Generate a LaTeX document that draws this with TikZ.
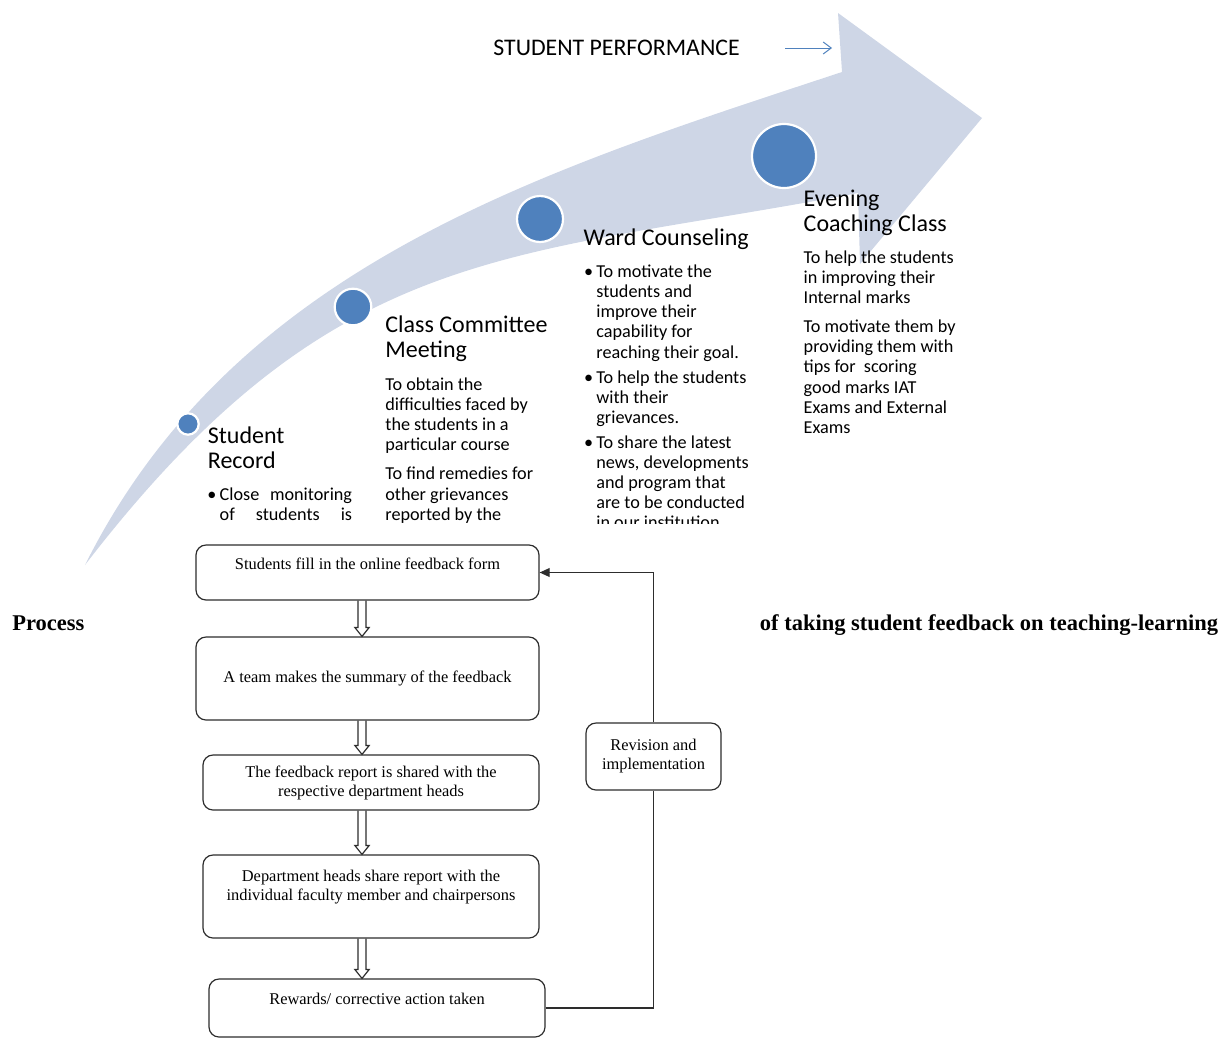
\documentclass[tikz,border=0pt]{standalone}
\usepackage{fontspec}
\setmainfont{Carlito}
\newfontfamily\flowfont{Liberation Serif}
\usepackage{xcolor}
\usetikzlibrary{calc,arrows.meta}

\definecolor{bandblue}{RGB}{206,214,230}
\definecolor{dotblue}{RGB}{79,129,189}
\definecolor{boxline}{RGB}{45,45,45}

\newcommand{\lift}[1]{\rule[-#1]{0pt}{#1}}
\newcommand{\bul}{\makebox[6.2pt][l]{\textbullet}}
\newcommand{\hollowdown}[2]{%
  \draw[flowlink, line join=miter] let \p1=(#1.south -| spine), \p2=(#2.north -| spine) in
    (\x1-2pt,\y1) -- (\x1-2pt,\y2+4.5pt) -- (\x1-3.6pt,\y2+4.5pt) -- (\x1,\y2)
    -- (\x1+3.6pt,\y2+4.5pt) -- (\x1+2pt,\y2+4.5pt) -- (\x1+2pt,\y1);}

\begin{document}
\begin{tikzpicture}[x=0.5pt,y=-0.5pt,
    stagedot/.style={circle, fill=dotblue, draw=white, line width=1.1pt, inner sep=0pt},
    headtext/.style={anchor=base west, inner sep=0pt, font=\fontsize{12}{12.5}\selectfont},
    bodytext/.style={anchor=base west, inner sep=0pt, font=\fontsize{9.1}{10.1}\selectfont},
    flowbox/.style={draw=boxline, line width=0.6pt, rounded corners=5pt, align=center,
        inner sep=2pt, font=\flowfont\fontsize{8.2}{9.5}\selectfont},
    flowlink/.style={draw=boxline, line width=0.6pt},
    captiontext/.style={inner sep=0pt, font=\flowfont\bfseries\fontsize{11.25}{13}\selectfont}]
        \useasboundingbox (0,0) rectangle (1219,1039);

        %ARROW BAND
        \fill[bandblue] (85,565) .. controls (235,265) and (542,171) .. (842,72)
            -- (838,13) -- (982,118) -- (860,264) -- (858,193)
            .. controls (508,259.5) and (335,240) .. (85,565) -- cycle;

        %TITLE
        \node[inner sep=0pt, anchor=base west, font=\fontsize{11.9}{12}\selectfont] (perf) at (493,55) {STUDENT PERFORMANCE};
        \coordinate (perfa) at (785,48);
        \coordinate (perfb) at (832,48);
        \draw[dotblue, line width=0.5pt, -{Straight Barb[length=4pt,width=6pt]}] (perfa) -- (perfb);

        %STAGES
        \node[stagedot, minimum size=10.7pt] (recorddot) at (188,424) {};
        \node[stagedot, minimum size=18.3pt] (committeedot) at (353,307) {};
        \node[stagedot, minimum size=23pt] (warddot) at (540,219) {};
        \node[stagedot, minimum size=32pt] (eveningdot) at (784,156) {};

        \node[headtext] (recordhead) at (207.5,443) {\begin{tabular}[t]{@{}l@{}}Student\\Record\end{tabular}};
        \node[headtext] (committeehead) at (385,332.7) {\begin{tabular}[t]{@{}l@{}}Class Committee\\Meeting\end{tabular}};
        \node[headtext] (wardhead) at (583.3,245.7) {Ward Counseling};
        \node[headtext] (eveninghead) at (803.3,206.7) {\begin{tabular}[t]{@{}l@{}}Evening\\Coaching Class\end{tabular}};

        \begin{scope}
            \clip (0,0) rectangle (1219,523);
            \node[bodytext] (recordtext) at (206.9,500.7) {\begin{tabular}[t]{@{}l@{}l@{}}
                \bul & \makebox[66.2pt][s]{Close monitoring}\\
                     & \makebox[66.2pt][s]{of students is}\end{tabular}};
            \node[bodytext] (committeetext) at (385,390) {\begin{tabular}[t]{@{}l@{}}
                To obtain the\\difficulties faced by\\the students in a\\particular course\\[4.5pt]
                To find remedies for\\other grievances\\reported by the\end{tabular}};
            \node[bodytext] (wardtext) at (583.6,277.3) {\begin{tabular}[t]{@{}l@{}l@{}}
                \bul & To motivate the\\ & students and\\ & improve their\\ & capability for\\ & reaching their goal.\\[2.4pt]
                \bul & To help the students\\ & with their\\ & grievances.\\[2.2pt]
                \bul & To share the latest\\ & news, developments\\ & and program that\\ & are to be conducted\\ & in our institution\end{tabular}};
            \node[bodytext] (eveningtext) at (803.3,263.3) {\begin{tabular}[t]{@{}l@{}}
                To help the students\\in improving their\\Internal marks\\[4.3pt]
                To motivate them by\\providing them with\\tips for\ \ scoring\\good marks IAT\\Exams and External\\Exams\end{tabular}};
        \end{scope}

        %CAPTION
        \node[captiontext, anchor=base west] (capleft) at (12,630) {Process};
        \node[captiontext, anchor=base east] (capright) at (1218.5,630) {of taking student feedback on teaching-learning};

        %FLOWCHART
        \coordinate (spine) at (362,0);
        \node[flowbox, minimum width=171.5pt, minimum height=27.5pt] (fill) at (367.5,572.5) {Students fill in the online feedback form\lift{8.5pt}};
        \node[flowbox, minimum width=171.5pt, minimum height=41.5pt] (summary) at (367.5,678.5) {A team makes the summary of the feedback\lift{1.5pt}};
        \node[flowbox, minimum width=168pt, minimum height=27.5pt] (share) at (371,782.5) {The feedback report is shared with the\\respective department heads};
        \node[flowbox, minimum width=168pt, minimum height=41.5pt] (faculty) at (371,896.5) {Department heads share report with the\\individual faculty member and chairpersons\lift{11.5pt}};
        \node[flowbox, minimum width=168pt, minimum height=29pt] (reward) at (377,1008) {Rewards/ corrective action taken\lift{9pt}};
        \node[flowbox, minimum width=67.5pt, minimum height=33.5pt] (revise) at (653.5,756.5) {Revision and\\implementation};

        \hollowdown{fill}{summary}
        \hollowdown{summary}{share}
        \hollowdown{share}{faculty}
        \hollowdown{faculty}{reward}

        \draw[flowlink] (reward.east) -| (revise.south);
        \draw[flowlink, -{Triangle[length=5pt,width=4.4pt]}] (revise.north) |- (fill.east);
\end{tikzpicture}
\end{document}
